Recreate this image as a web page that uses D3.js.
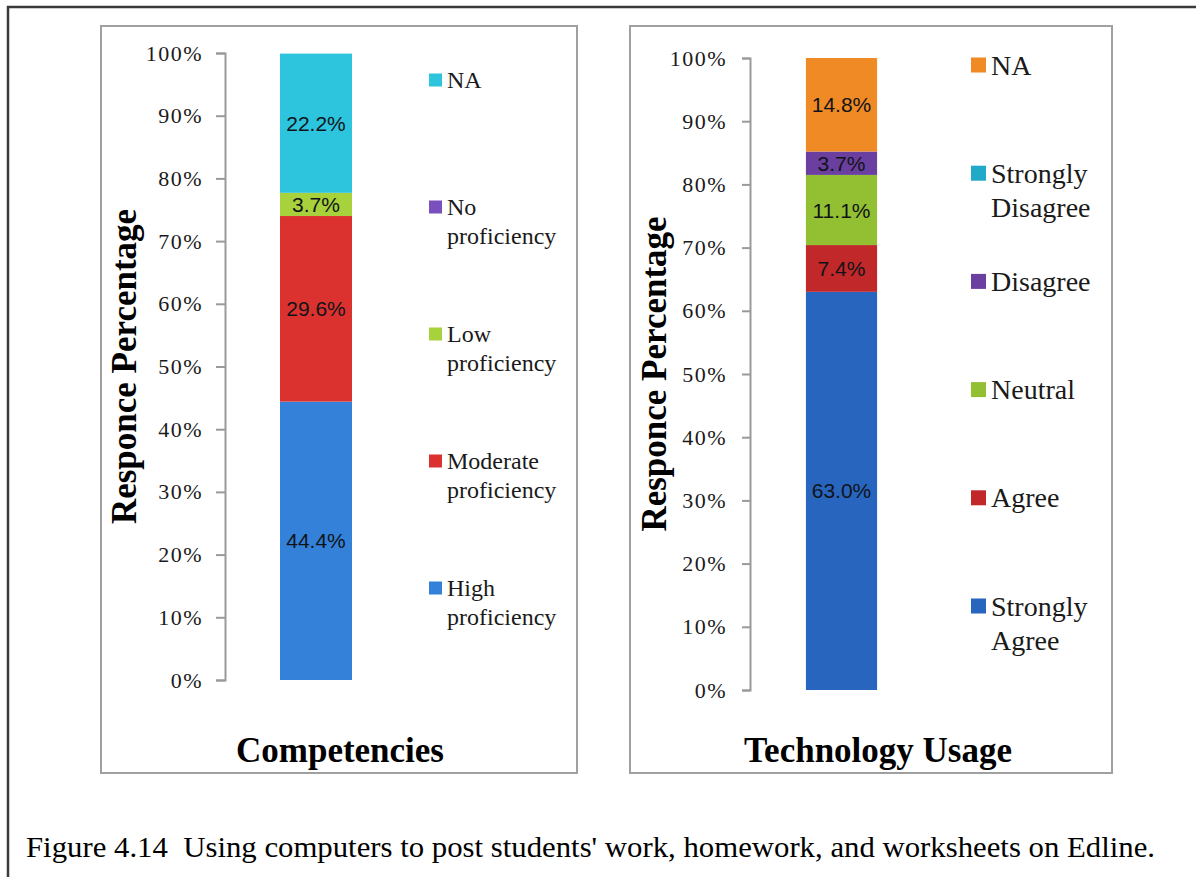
<!DOCTYPE html>
<html>
<head>
<meta charset="utf-8">
<script src="https://cdn.jsdelivr.net/npm/d3@7"></script>
<style>
  html, body { margin: 0; padding: 0; background: #fff; }
  svg { display: block; }
</style>
</head>
<body>
<svg id="chart" width="1196" height="877"></svg>
<script>
// Data
const compCategories = ['High proficiency', 'Moderate proficiency', 'Low proficiency', 'No proficiency', 'NA'];
const compValues = [44.4, 29.6, 3.7, 0, 22.2];
const compColors = ['#3381d9', '#dc322f', '#a8d23c', '#7a4fbe', '#2dc4de'];

const techCategories = ['Strongly Agree', 'Agree', 'Neutral', 'Disagree', 'Strongly Disagree', 'NA'];
const techValues = [63.0, 7.4, 11.1, 3.7, 0, 14.8];
const techColors = ['#2865be', '#c0282a', '#93bf33', '#6b3fa0', '#20a9c9', '#f08a24'];

const yTicks = [0, 10, 20, 30, 40, 50, 60, 70, 80, 90, 100];
const caption = "Figure 4.14  Using computers to post students' work, homework, and worksheets on Edline.";

const SERIF = "'Liberation Serif', 'Times New Roman', serif";
const SANS = "'Liberation Sans', Arial, sans-serif";

const svg = d3.select('#chart');

// outer frame (top + left edges of the page box)
svg.append('path')
    .attr('d', 'M8,877 L8,7 L1196,7')
    .attr('fill', 'none')
    .attr('stroke', '#3a3a3a')
    .attr('stroke-width', 2.5);

function drawPanel(cfg) {
    const g = svg.append('g');

    // panel border
    g.append('rect')
        .attr('x', cfg.box[0]).attr('y', cfg.box[1])
        .attr('width', cfg.box[2] - cfg.box[0]).attr('height', cfg.box[3] - cfg.box[1])
        .attr('fill', '#fff')
        .attr('stroke', '#a0a0a0')
        .attr('stroke-width', 2);

    const y = d3.scaleLinear().domain([0, 100]).range([cfg.yBottom, cfg.yTop]);
    const x = d3.scaleBand().domain([cfg.title]).range([cfg.axisX, cfg.axisX + cfg.bandSpan]).padding(cfg.bandPad);

    // axis
    const axis = g.append('g')
        .attr('transform', `translate(${cfg.axisX},0)`)
        .call(d3.axisLeft(y).tickValues(yTicks).tickSize(cfg.tickLen).tickPadding(cfg.tickPad).tickFormat(d => d + '%'));
    axis.select('.domain').attr('stroke', '#9a9a9a').attr('stroke-width', 2);
    axis.selectAll('.tick line').attr('stroke', '#9a9a9a').attr('stroke-width', 2);
    axis.selectAll('.tick text')
        .attr('font-family', SERIF)
        .attr('font-size', 22)
        .attr('letter-spacing', 1.5)
        .attr('fill', '#1a1a1a');

    // stacked segments
    const ends = d3.cumsum(cfg.values);
    const segs = cfg.values.map((v, i) => ({ v, top: ends[i], bottom: ends[i] - v, color: cfg.colors[i], name: cfg.categories[i] }));

    g.selectAll('rect.seg')
        .data(segs.filter(d => d.v > 0))
        .enter().append('rect')
        .attr('class', 'seg')
        .attr('x', x(cfg.title))
        .attr('width', x.bandwidth())
        .attr('y', d => y(d.top))
        .attr('height', d => y(d.bottom) - y(d.top))
        .attr('fill', d => d.color);

    g.selectAll('text.val')
        .data(segs.filter(d => d.v > 0))
        .enter().append('text')
        .attr('class', 'val')
        .attr('x', x(cfg.title) + x.bandwidth() / 2)
        .attr('y', d => y((d.top + d.bottom) / 2))
        .attr('dy', '0.36em')
        .attr('text-anchor', 'middle')
        .attr('font-family', SANS)
        .attr('font-size', 21)
        .attr('fill', '#101418')
        .text(d => d.v.toFixed(1) + '%');

    // legend (reverse order, top to bottom)
    const legendItems = segs.slice().reverse();
    const lg = g.selectAll('g.leg')
        .data(legendItems)
        .enter().append('g')
        .attr('class', 'leg')
        .attr('transform', (d, i) => `translate(${cfg.legX},${cfg.legTop + i * cfg.legStep})`);
    lg.append('rect')
        .attr('x', 0).attr('y', -cfg.sw / 2)
        .attr('width', cfg.sw).attr('height', cfg.sw)
        .attr('fill', d => d.color);
    lg.each(function (d) {
        const words = d.name.split(' ');
        const t = d3.select(this).append('text')
            .attr('font-family', SERIF)
            .attr('font-size', cfg.legFont)
            .attr('fill', '#1a1a1a');
        words.forEach((w, j) => {
            t.append('tspan')
                .attr('x', cfg.sw + 5)
                .attr('y', j * cfg.legLine)
                .attr('dy', '0.34em')
                .text(w);
        });
    });

    // axis titles
    g.append('text')
        .attr('transform', `translate(${cfg.yTitleX},${(cfg.yTop + cfg.yBottom) / 2}) rotate(-90)`)
        .attr('text-anchor', 'middle')
        .attr('dy', '0.35em')
        .attr('font-family', SERIF)
        .attr('font-weight', 'bold')
        .attr('font-size', 35)
        .attr('fill', '#000')
        .text('Responce Percentage');

    g.append('text')
        .attr('x', cfg.xTitleX)
        .attr('y', 750)
        .attr('dy', '0.35em')
        .attr('text-anchor', 'middle')
        .attr('font-family', SERIF)
        .attr('font-weight', 'bold')
        .attr('font-size', 35)
        .attr('fill', '#000')
        .text(cfg.title);
}

drawPanel({
    title: 'Competencies',
    categories: compCategories, values: compValues, colors: compColors,
    box: [101, 26, 577, 773],
    axisX: 225, yTop: 53, yBottom: 680,
    bandSpan: 182, bandPad: 0.433,
    tickLen: 9, tickPad: 13,
    legX: 429, legTop: 80, legStep: 127, legLine: 29, legFont: 24, sw: 13,
    yTitleX: 124, xTitleX: 340
});

drawPanel({
    title: 'Technology Usage',
    categories: techCategories, values: techValues, colors: techColors,
    box: [630, 26, 1112, 773],
    axisX: 750, yTop: 58, yBottom: 690,
    bandSpan: 183, bandPad: 0.44,
    tickLen: 8, tickPad: 15,
    legX: 971, legTop: 65, legStep: 108.2, legLine: 34, legFont: 28, sw: 15,
    yTitleX: 654, xTitleX: 878
});

// caption
svg.append('text')
    .attr('x', 26)
    .attr('y', 857)
    .attr('font-family', SERIF)
    .attr('font-size', 29)
    .attr('fill', '#000')
    .style('white-space', 'pre')
    .attr('textLength', 1129)
    .attr('lengthAdjust', 'spacingAndGlyphs')
    .text(caption);
</script>
</body>
</html>
